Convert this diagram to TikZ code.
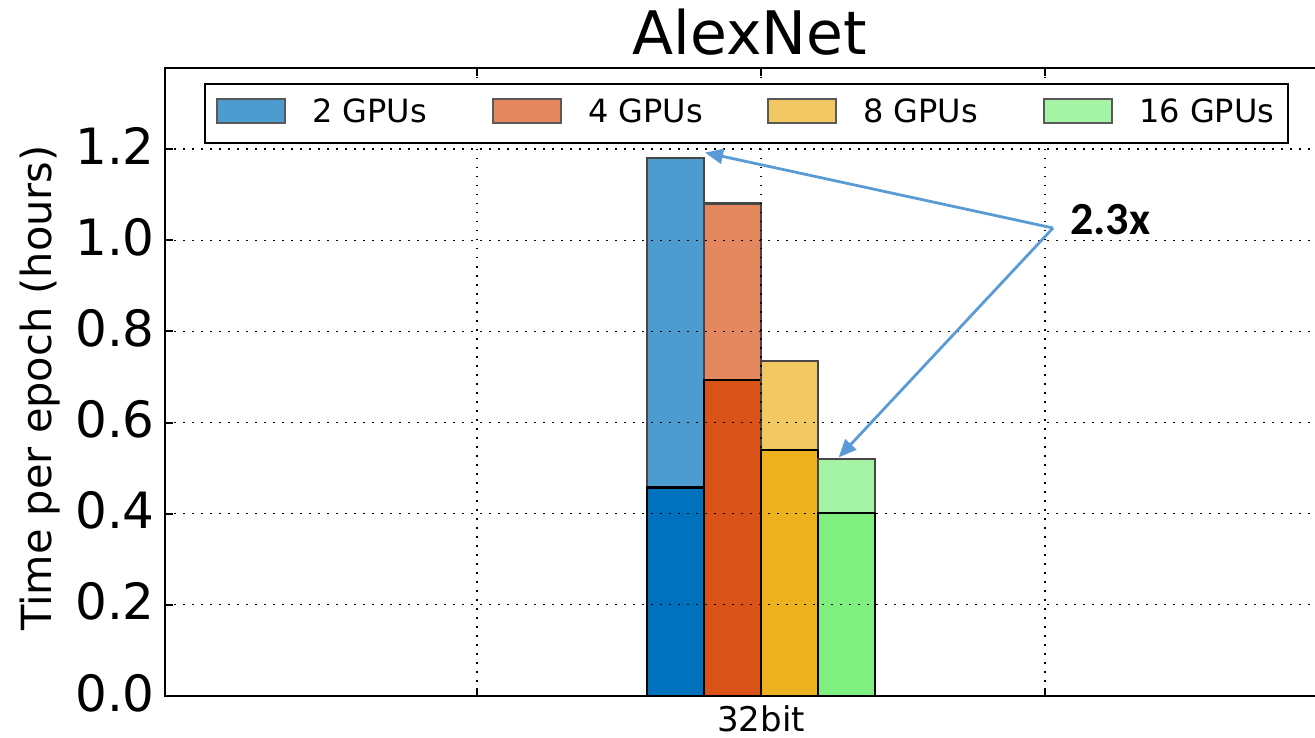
\documentclass[tikz,border=0pt]{standalone}
\usepackage{fontspec}
\setmainfont{DejaVu Sans}
\newfontfamily\calibri{Carlito}
\usepackage{tikz}
\usetikzlibrary{arrows.meta}

\definecolor{blueD}{HTML}{0072BD}
\definecolor{blueL}{HTML}{4D9CD0}
\definecolor{orangeD}{HTML}{D95319}
\definecolor{orangeL}{HTML}{E4875E}
\definecolor{yellowD}{HTML}{EDB120}
\definecolor{yellowL}{HTML}{F2C863}
\definecolor{greenD}{HTML}{7FF07F}
\definecolor{greenL}{HTML}{A5F4A5}
\definecolor{arrowblue}{HTML}{5B9BD5}

\begin{document}
\begin{tikzpicture}[x=1pt, y=-1pt,
	grid/.style={black, line width=1.3pt, dash pattern=on 1.5pt off 7.5pt},
	axis/.style={black, line width=2pt},
	lightbar/.style={draw=black!72, line width=2.5pt},
	darkbar/.style={draw=black, line width=2.5pt},
	swatch/.style={draw=black!65, line width=2pt},
	pointer/.style={draw=arrowblue, line width=2.8pt, -{Triangle[length=18pt,width=15pt]}, shorten >=-2pt},
	ticklabel/.style={anchor=base east, font=\fontsize{50}{60}\selectfont, inner sep=0pt},
	legendtext/.style={anchor=base west, font=\fontsize{32}{38}\selectfont, inner sep=0pt}
]
\useasboundingbox (0,0) rectangle (1315,738);

% bars: total time (light) and compute part (dark)
\foreach \x/\hi/\lo/\c in {647/1.18/0.457/blue, 704/1.08/0.693/orange, 761/0.735/0.54/yellow, 818/0.52/0.401/green}
{
	\filldraw[lightbar, fill=\c L] (\x,696) rectangle ({\x+57},{696-455.8*\hi});
	\filldraw[darkbar, fill=\c D] (\x,696) rectangle ({\x+57},{696-455.8*\lo});
}

% grid
\foreach \v in {0.2,0.4,0.6,0.8,1.0,1.2}
	\draw[grid] (165,{696-455.8*\v}) -- (1315,{696-455.8*\v});
\foreach \x in {477,761,1045}
	\draw[grid] (\x,68) -- (\x,696);

% axes and ticks
\draw[axis] (1315,68) -- (165,68) -- (165,696) -- (1315,696);
\foreach \v in {0.0,0.2,0.4,0.6,0.8,1.0,1.2}
{
	\draw[axis] (165,{696-455.8*\v}) -- (173,{696-455.8*\v});
	\node[ticklabel] (y\v) at (155,{711-455.8*\v}) {\v};
}
\foreach \x in {477,761,1045}
{
	\draw[axis] (\x,68) -- (\x,76);
	\draw[axis] (\x,696) -- (\x,688);
}

\node[anchor=base, font=\fontsize{34}{40}\selectfont, inner sep=0pt] (xlab) at (761,731) {32bit};
\node[rotate=90, font=\fontsize{41.5}{50}\selectfont, inner sep=0pt] (ylab) at (40,388) {Time per epoch (hours)};
\node[anchor=base, font=\fontsize{60}{70}\selectfont, inner sep=0pt] (title) at (750,55) {AlexNet};

% legend
\filldraw[axis, fill=white] (205,84) rectangle (1288,143);
\foreach \x/\c/\t in {217/blue/2 GPUs, 493/orange/4 GPUs, 768/yellow/8 GPUs, 1044/green/16 GPUs}
{
	\filldraw[swatch, fill=\c L] (\x,99) rectangle ({\x+68},123);
	\node[legendtext] (leg\c) at ({\x+95},123) {\t};
}

% speedup annotation
\node[anchor=base west, font=\calibri\bfseries\fontsize{46}{54}\selectfont, inner sep=0pt] (speedup) at (1070,235) {2.3x};
\coordinate (fork) at (1053,228);
\coordinate (top2) at (707,153);
\coordinate (top16) at (840,456);
\draw[pointer] (fork) -- (top2);
\draw[pointer] (fork) -- (top16);
\end{tikzpicture}
\end{document}
